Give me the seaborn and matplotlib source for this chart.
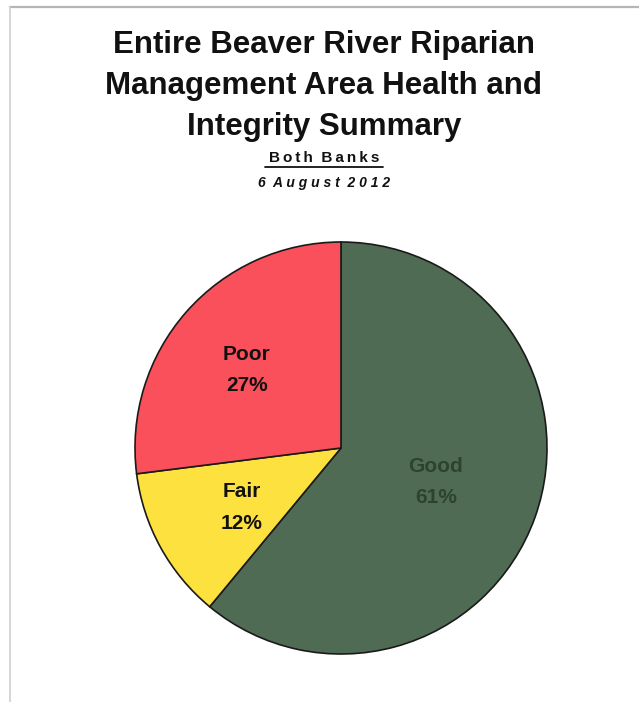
import numpy as np
import matplotlib
matplotlib.use("Agg")
import matplotlib.pyplot as plt
import seaborn as sns
from matplotlib.lines import Line2D

sns.set_theme(style="white")
plt.rcParams['font.family'] = ['Liberation Sans', 'DejaVu Sans']

categories = ["Good", "Fair", "Poor"]
values = [61, 12, 27]
colors = ["#4f6b53", "#fde13f", "#fa505b"]
label_colors = ["#2c4330", "#111111", "#111111"]
label_dist = [0.49, 0.55, 0.61]
label_nudge = [0, -5, -5]   # vertical pixel nudge

W, H = 639, 702
fig = plt.figure(figsize=(W / 100, H / 100), dpi=100)
fig.patch.set_facecolor("white")
ax = fig.add_axes([0, 0, 1, 1])

# light frame
fig.add_artist(Line2D([10 / W, 1], [1 - 7 / H, 1 - 7 / H], transform=fig.transFigure,
                      color="#b5b5b5", lw=1.6))
fig.add_artist(Line2D([10 / W, 10 / W], [0, 1 - 7 / H], transform=fig.transFigure,
                      color="#d0d0d0", lw=1.2))

cx, cy, r = 341, H - 448, 206
wedges, _ = ax.pie(values, colors=colors, startangle=90, counterclock=False,
                   center=(cx, cy), radius=r, frame=True,
                   wedgeprops=dict(edgecolor="#1a1a1a", linewidth=1.2))
ax.set_xlim(0, W)
ax.set_ylim(0, H)
ax.set_aspect("auto")
ax.axis("off")

for w, cat, v, lc, d, n in zip(wedges, categories, values, label_colors, label_dist, label_nudge):
    ang = np.deg2rad((w.theta1 + w.theta2) / 2)
    x = cx + d * r * np.cos(ang)
    y = cy + d * r * np.sin(ang) + n
    ax.text(x, y, f"{cat}\n{v}%", ha="center", va="center", fontsize=15,
            fontweight="bold", color=lc, linespacing=1.82)

title_lines = ["Entire Beaver River Riparian", "Management Area Health and", "Integrity Summary"]
for i, t in enumerate(title_lines):
    fig.text(0.507, 1 - (45 + 41 * i) / H, t, ha="center", va="center",
             fontsize=22.5, fontweight="bold", color="#111111")

sp = "\u2009"
fig.text(0.507, 1 - 158 / H, sp.join("Both") + "  " + sp.join("Banks"), ha="center",
         va="center", fontsize=11, fontweight="bold", color="#111111")
fig.add_artist(Line2D([265 / W, 383 / W], [1 - 167 / H, 1 - 167 / H],
                      transform=fig.transFigure, color="#111111", lw=1.3))
fig.text(0.507, 1 - 183 / H, "6  A u g u s t  2 0 1 2", ha="center", va="center",
         fontsize=10, fontweight="bold", fontstyle="italic", color="#111111")

fig.savefig("out.png", dpi=100, facecolor="white")
